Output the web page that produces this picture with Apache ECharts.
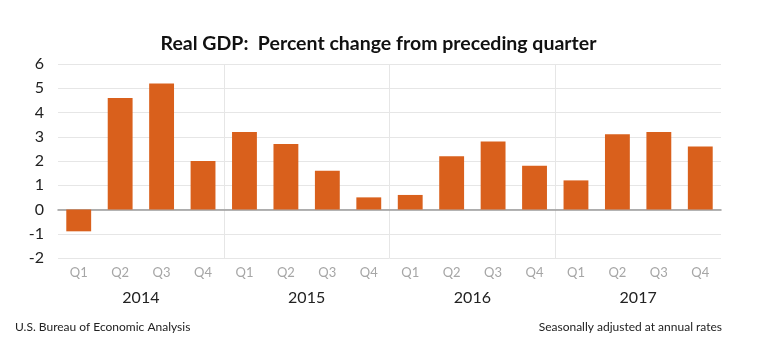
<!DOCTYPE html>
<html>
<head>
<meta charset="utf-8">
<script src="https://cdn.jsdelivr.net/npm/echarts@6/dist/echarts.min.js"></script>
<style>html,body{margin:0;padding:0;background:#fff;}#c{width:757px;height:355px;}</style>
</head>
<body>
<div id="c"></div>
<script>
var quarters = ['Q1','Q2','Q3','Q4','Q1','Q2','Q3','Q4','Q1','Q2','Q3','Q4','Q1','Q2','Q3','Q4'];
var years = ['2014','2015','2016','2017'];
var gdpChange = [-0.9, 4.6, 5.2, 2.0, 3.2, 2.7, 1.6, 0.5, 0.6, 2.2, 2.8, 1.8, 1.2, 3.1, 3.2, 2.6];
var yTicks = {min: -2, max: 6, interval: 1};

var font = 'Lato, "Open Sans", sans-serif';
var sep = '#e6e6e6';
var chart = echarts.init(document.getElementById('c'), null, {renderer: 'canvas'});
chart.setOption({
  animation: false,
  backgroundColor: '#ffffff',
  title: {
    text: 'Real GDP:  Percent change from preceding quarter',
    left: 'center', top: 29,
    textStyle: {fontFamily: font, fontSize: 19.5, fontWeight: 'bold', color: '#111'}
  },
  grid: {left: 58, right: 36, top: 64, bottom: 97, containLabel: false},
  xAxis: [{
    type: 'category',
    data: quarters,
    axisLine: {onZero: true, lineStyle: {color: '#9a9a9a', width: 1.5}},
    axisTick: {show: false},
    axisLabel: {color: '#a6a6a6', fontFamily: font, fontSize: 13, margin: 8},
    splitLine: {show: false}
  }, {
    type: 'category',
    data: years,
    position: 'bottom',
    offset: 26,
    axisLine: {show: false},
    axisTick: {show: false},
    axisLabel: {color: '#222', fontFamily: font, fontSize: 16, margin: 6},
    splitLine: {show: true, interval: 0,
      lineStyle: {color: ['rgba(0,0,0,0)', sep, sep, sep, 'rgba(0,0,0,0)'], width: 1}}
  }],
  yAxis: {
    type: 'value',
    min: yTicks.min, max: yTicks.max, interval: yTicks.interval,
    axisLine: {show: false},
    axisTick: {show: false},
    axisLabel: {color: '#222', fontFamily: font, fontSize: 16, margin: 14},
    splitLine: {lineStyle: {color: '#e6e6e6', width: 1}}
  },
  series: [{
    type: 'bar',
    xAxisIndex: 0,
    data: gdpChange,
    barWidth: '60%',
    itemStyle: {color: '#D9601C'}
  }],
  graphic: [
    {type: 'text', left: 15, top: 321, style: {text: 'U.S. Bureau of Economic Analysis', font: '12px Lato, sans-serif', fill: '#222'}},
    {type: 'text', right: 35, top: 321, style: {text: 'Seasonally adjusted at annual rates', font: '12px Lato, sans-serif', fill: '#222'}}
  ]
});
</script>
</body>
</html>
